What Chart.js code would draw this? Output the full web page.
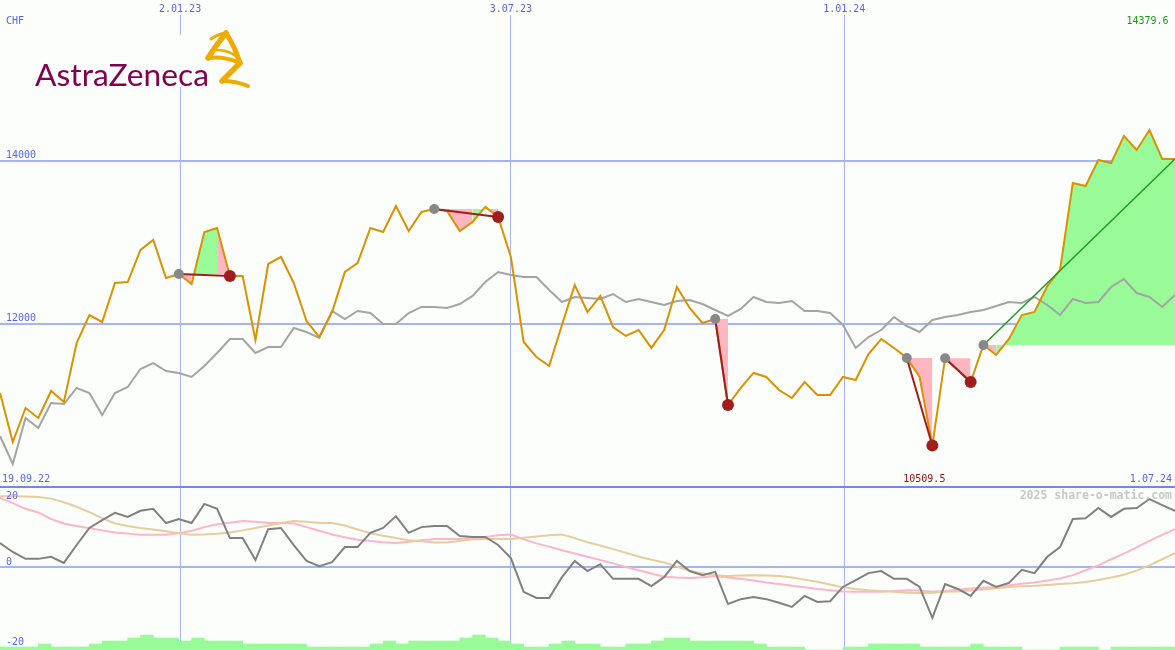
<!DOCTYPE html>
<html><head><meta charset="utf-8">
<script src="https://cdn.jsdelivr.net/npm/chart.js@4.4.1/dist/chart.umd.min.js"></script>
<style>
html,body{margin:0;padding:0;background:#fcfefb;}
#wrap{position:relative;width:1175px;height:650px;overflow:hidden;background:#fcfefb;}
#c1{position:absolute;left:0;top:0;width:1175px;height:488px;}
#c2{position:absolute;left:0;top:488px;width:1175px;height:162px;}
#logo{position:absolute;left:0;top:0;}
</style></head><body>
<div id="wrap">
<canvas id="c1" width="1175" height="488"></canvas>
<canvas id="c2" width="1175" height="162"></canvas>
<svg id="logo" width="300" height="100" viewBox="0 0 300 100">
<rect x="30" y="35" width="228" height="52" fill="#fcfefb"/>
<text x="35" y="86" font-family="Lato, 'Open Sans', sans-serif" font-size="31" fill="#830051" textLength="174" lengthAdjust="spacingAndGlyphs">AstraZeneca</text>
<g fill="none" stroke="#f0ab00" stroke-linejoin="round" stroke-linecap="round">
<path stroke-width="3" d="M211 39 Q 218 34 226 33"/>
<path stroke-width="5.5" d="M226 33 Q 216 45 208 58"/>
<path stroke-width="4" d="M208 58 Q 224 56 240 63"/>
<path stroke-width="5" d="M226 33 Q 235 47 240 63"/>
<path stroke-width="2.5" d="M217 50 Q 229 50 237 57"/>
<path stroke-width="5.5" d="M240 63 Q 230 73 222 81"/>
<path stroke-width="4" d="M222 81 Q 236 81 248 86"/>
</g>
</svg>
</div>
<script>
// ---------------- data ----------------
const currency = 'CHF';
const startDate = '19.09.22';
const endDate = '1.07.24';
const dateLabels = ['2.01.23', '3.07.23', '1.01.24'];
const dateTickWeeks = [14.1, 40.0, 66.1];
const priceTicks = [12000, 14000];
const oscTicks = [20, 0, -20];
const watermark = '2025 share-o-matic.com';

const price = [11153,10552,10969,10847,11178,11043,11767,12110,12025,12503,
12515,12908,13031,12564,12614,12491,13129,13178,12589,12589,
11804,12736,12822,12503,12037,11840,12147,12638,12748,13178,
13129,13448,13141,13374,13411,13387,13141,13252,13436,13313,
12822,11779,11595,11485,11988,12479,12147,12344,11963,11853,
11926,11706,11926,12454,12196,12012,12061,11006,11215,11399,
11350,11190,11092,11288,11129,11129,11350,11313,11632,11816,
11706,11583,11350,10509.5,11580,11436,11288,11742,11620,11816,
12110,12147,12466,12663,13730,13693,14012,13975,14307,14135,
14379.6,14025,14025];

const benchmark = [10626,10282,10847,10724,11031,11018,11215,11153,10883,11153,
11227,11448,11521,11423,11399,11350,11485,11644,11816,11816,
11644,11718,11718,11951,11902,11828,12160,12061,12160,12135,
12000,12000,12135,12209,12209,12196,12245,12344,12515,12638,
12601,12577,12577,12417,12270,12331,12319,12307,12368,12270,
12307,12270,12233,12282,12294,12245,12172,12098,12184,12331,
12270,12258,12282,12160,12160,12135,11988,11706,11840,11926,
12086,11975,11902,12049,12086,12110,12147,12172,12221,12270,
12258,12331,12233,12110,12307,12258,12270,12454,12552,12380,
12331,12209,12356];

const osc = [5.9,3.7,2.0,2.0,2.5,1.0,5.4,9.6,11.5,13.3,
12.3,13.8,14.3,10.8,11.8,10.8,15.5,14.3,7.1,7.1,
1.7,9.3,9.6,5.4,1.5,0.2,1.2,4.9,4.9,8.4,
9.6,12.5,8.4,9.8,10.1,10.1,7.6,7.4,7.4,5.4,
2.2,-6.1,-7.6,-7.6,-2.5,1.5,-1.0,0.7,-2.9,-2.9,
-2.9,-4.7,-2.5,1.5,-1.0,-2.0,-1.2,-9.1,-7.9,-7.4,
-7.9,-8.8,-9.8,-7.1,-8.6,-8.4,-4.9,-3.2,-1.5,-1.0,
-2.9,-2.9,-4.9,-12.5,-4.2,-5.4,-7.1,-3.4,-4.9,-3.9,
-0.7,-1.5,2.5,4.9,11.8,12.0,14.5,12.3,14.3,14.5,
16.7,15.2,13.8];

const oscFast = [17.0,15.7,14.3,13.4,11.8,10.7,10.1,9.5,9.0,8.5,
8.2,7.9,7.9,7.9,8.3,8.9,9.8,10.5,10.9,11.3,
11.1,10.8,10.8,10.7,9.8,8.9,8.0,7.3,6.7,6.4,
6.1,5.9,6.2,6.6,6.9,6.9,6.9,7.1,7.4,7.8,
8.0,6.8,5.8,5.0,4.1,3.3,2.5,1.7,0.9,0.0,
-0.8,-1.6,-2.4,-2.6,-2.7,-2.5,-2.2,-2.6,-2.9,-3.3,
-3.8,-4.2,-4.6,-5.0,-5.4,-5.7,-6.0,-6.1,-6.1,-6.1,
-5.9,-5.7,-5.8,-6.1,-5.9,-5.6,-5.3,-5.1,-4.9,-4.5,
-4.1,-3.8,-3.3,-2.8,-2.0,-0.8,0.4,1.9,3.3,4.8,
6.4,7.9,9.3];

const oscSlow = [17.4,17.4,17.3,17.2,16.8,15.9,14.8,13.5,12.0,10.7,
10.1,9.6,9.2,8.8,8.3,7.9,8.0,8.2,8.5,9.0,
9.6,10.2,10.8,11.3,11.1,10.8,10.8,10.2,9.2,8.3,
7.7,7.1,6.6,6.3,6.0,6.0,6.4,6.8,6.9,6.9,
6.9,7.2,7.5,7.8,8.0,7.1,6.1,5.3,4.4,3.5,
2.6,1.8,1.1,0.1,-0.9,-1.6,-2.0,-2.2,-2.1,-2.0,
-2.1,-2.2,-2.6,-3.1,-3.6,-4.3,-5.0,-5.4,-5.7,-5.9,
-6.1,-6.3,-6.4,-6.3,-6.1,-6.0,-5.8,-5.5,-5.2,-4.9,
-4.7,-4.6,-4.4,-4.2,-4.0,-3.7,-3.2,-2.6,-1.9,-0.9,
0.4,1.9,3.4];

const volumeLevel = [1,1,1,2,1,1,1,2,3,3,
4,5,4,4,3,4,3,3,3,2,
2,2,2,2,1,1,1,1,1,2,
3,2,3,3,3,3,4,5,4,3,
2,1,1,2,3,2,2,1,1,2,
2,3,4,4,3,3,3,3,3,2,
1,1,1,0,0,0,1,1,2,2,
2,2,1,1,1,1,2,1,1,1,
0,0,0,1,1,1,0,1,1,1,
1,1];

const signalStart = [14, 34, 56, 71, 74, 77];
const signalEnd   = [18, 39, 57, 73, 76, 92];
const signalOpen  = [false, false, false, false, false, true];

// ---------------- styles ----------------
const MONO = '"DejaVu Sans Mono", "Liberation Mono", monospace';
const BLUE = '#5564f0';
const GRID = '#a4b4f4';
const BORDER = '#7585ea';
const ORANGE = '#db9100';
const GREYLINE = '#a4a4a4';
const FILL_UP = '#98fb98';
const FILL_DOWN = '#ffb6c1';
const DARKRED = '#a11d1d';
const TREND = '#1f9a1f';
const Y_MIN = 10000, Y_MAX = 15791;
const O_MIN = -20.39, O_MAX = 19.41;

Chart.defaults.font.family = MONO;
Chart.defaults.animation = false;

const pts = arr => arr.map((v, i) => ({x: i, y: v}));
const lastIdx = price.length - 1;
const maxVal = Math.max(...price), maxIdx = price.indexOf(maxVal);
const minVal = Math.min(...price), minIdx = price.indexOf(minVal);

function xAxis(showLabels) {
  return {
    type: 'linear', min: 0, max: lastIdx, position: showLabels ? 'top' : 'bottom',
    offset: false,
    afterBuildTicks: s => { s.ticks = dateTickWeeks.map(v => ({value: v})); },
    afterFit: s => { s.height = showLabels ? 15 : 0; },
    ticks: {display: showLabels, callback: (v, i) => dateLabels[i], color: BLUE,
            font: {family: MONO, size: 10}, padding: 0, maxRotation: 0, autoSkip: false},
    grid: {color: GRID, lineWidth: 1, drawTicks: false, offset: false},
    border: {display: false}
  };
}

// ---------------- top chart datasets ----------------
const topSets = [];
signalStart.forEach((s, k) => {
  const e = signalEnd[k];
  const base = price[s];
  const seg = [];
  for (let i = s; i <= e; i++) seg.push({x: i, y: price[i]});
  topSets.push({
    data: seg, order: 20, borderColor: 'rgba(0,0,0,0)', borderWidth: 0, pointRadius: 0,
    backgroundColor: FILL_DOWN, fill: {value: base},
    segment: {backgroundColor: c => (c.p1.parsed.y >= base ? FILL_UP : FILL_DOWN)}
  });
  topSets.push({
    data: [{x: s, y: base}, {x: e, y: price[e]}], order: 2,
    borderColor: signalOpen[k] ? TREND : DARKRED, borderWidth: signalOpen[k] ? 1.5 : 2,
    pointRadius: 0, fill: false
  });
});
topSets.push({data: pts(benchmark), order: 12, borderColor: GREYLINE, borderWidth: 2, pointRadius: 0, fill: false});
topSets.push({data: pts(price), order: 10, borderColor: ORANGE, borderWidth: 2, pointRadius: 0, fill: false});
topSets.push({data: signalStart.map(i => ({x: i, y: price[i]})), order: 1, showLine: false,
  pointRadius: 5, pointBackgroundColor: '#888888', pointBorderWidth: 0});
topSets.push({data: signalEnd.filter((e, k) => !signalOpen[k]).map(i => ({x: i, y: price[i]})), order: 0, showLine: false,
  pointRadius: 6, pointBackgroundColor: DARKRED, pointBorderWidth: 0});

const topText = {
  id: 'topText',
  afterDraw(chart) {
    const {ctx, scales: {x, y}} = chart;
    const bottom = y.getPixelForValue(Y_MIN);
    ctx.save();
    ctx.font = '10px ' + MONO;
    ctx.textBaseline = 'middle';
    ctx.fillStyle = BLUE;
    ctx.textAlign = 'left';
    ctx.fillText(currency, 6, 21);
    priceTicks.forEach(v => ctx.fillText(String(v), 6, y.getPixelForValue(v) - 5.5));
    ctx.fillText(startDate, 2, bottom - 8);
    ctx.textAlign = 'right';
    ctx.fillText(endDate, 1172, bottom - 8);
    ctx.textAlign = 'center';
    ctx.fillStyle = '#1a9a1a';
    ctx.fillText(maxVal.toFixed(1), x.getPixelForValue(maxIdx) - 2, 21);
    ctx.fillStyle = '#a01010';
    ctx.fillText(minVal.toFixed(1), x.getPixelForValue(minIdx) - 8, bottom - 8);
    ctx.restore();
  }
};

new Chart(document.getElementById('c1'), {
  type: 'line',
  data: {datasets: topSets},
  options: {
    responsive: false, devicePixelRatio: 1, animation: false, events: [],
    layout: {autoPadding: false, padding: {left: 0, right: 0, top: 0, bottom: 1}},
    plugins: {legend: {display: false}, tooltip: {enabled: false}},
    scales: {
      x: xAxis(true),
      y: {
        type: 'linear', min: Y_MIN, max: Y_MAX,
        afterBuildTicks: s => { s.ticks = [Y_MIN, ...priceTicks].map(v => ({value: v})); },
        afterFit: s => { s.width = 0; },
        ticks: {display: false},
        grid: {color: c => (c.tick && c.tick.value === Y_MIN ? BORDER : GRID), lineWidth: 2, drawTicks: false},
        border: {display: false}
      }
    }
  },
  plugins: [topText]
});

// ---------------- lower chart ----------------
const lowText = {
  id: 'lowText',
  afterDraw(chart) {
    const {ctx, scales: {y}} = chart;
    ctx.save();
    ctx.font = '10px ' + MONO;
    ctx.textBaseline = 'middle';
    ctx.fillStyle = BLUE;
    ctx.textAlign = 'left';
    oscTicks.forEach(v => {
      const py = Math.min(154.5, Math.max(8.5, y.getPixelForValue(v) - 5));
      ctx.fillText(String(v), 6, py);
    });
    ctx.font = 'bold 11.5px ' + MONO;
    ctx.fillStyle = '#c8c8c8';
    ctx.textAlign = 'right';
    ctx.fillText(watermark, 1172, 8.5);
    ctx.restore();
  }
};

new Chart(document.getElementById('c2'), {
  type: 'line',
  data: {datasets: [
    {data: pts(osc), order: 0, borderColor: '#808080', borderWidth: 2, pointRadius: 0, fill: false, yAxisID: 'y'},
    {data: pts(oscFast), order: 2, borderColor: '#ffb4c8', borderWidth: 2, pointRadius: 0, fill: false, yAxisID: 'y'},
    {data: pts(oscSlow), order: 1, borderColor: '#e8cc9e', borderWidth: 2, pointRadius: 0, fill: false, yAxisID: 'y'},
    {type: 'bar', data: volumeLevel.map((v, i) => ({x: i + 0.5, y: v})), order: 10, yAxisID: 'yv',
     backgroundColor: FILL_UP, borderWidth: 0, barPercentage: 1, categoryPercentage: 1}
  ]},
  options: {
    responsive: false, devicePixelRatio: 1, animation: false, events: [],
    layout: {autoPadding: false, padding: 0},
    plugins: {legend: {display: false}, tooltip: {enabled: false}},
    scales: {
      x: xAxis(false),
      y: {
        type: 'linear', min: O_MIN, max: O_MAX,
        afterBuildTicks: s => { s.ticks = [{value: 0}]; },
        afterFit: s => { s.width = 0; },
        ticks: {display: false},
        grid: {color: GRID, lineWidth: 2, drawTicks: false},
        border: {display: false}
      },
      yv: {type: 'linear', display: false, min: 0, max: 54}
    }
  },
  plugins: [lowText]
});
</script>
</body></html>
